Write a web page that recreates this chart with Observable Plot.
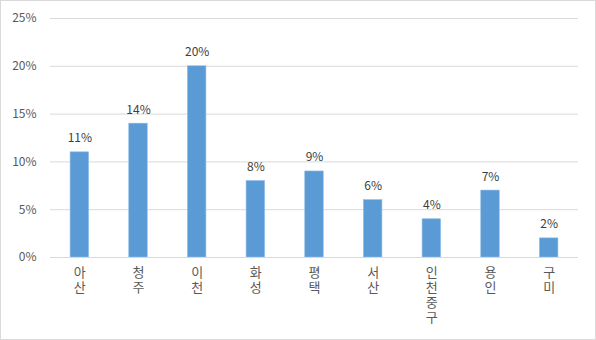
<!DOCTYPE html>
<html><head><meta charset="utf-8">
<script src="https://cdn.jsdelivr.net/npm/d3@7"></script>
<script src="https://cdn.jsdelivr.net/npm/@observablehq/plot@0.6"></script>
<style>
body{margin:0;background:#fff;}
#c svg{display:block;outline:1px solid #d9d9d9;outline-offset:-1px;}
</style>
</head><body><div id="c"></div>
<script>
const cities = ["아산","청주","이천","화성","평택","서산","인천중구","용인","구미"];
const shares = [11,14,20,8,9,6,4,7,2];
const yTicks = [0,5,10,15,20,25];

const data = cities.map((c,i)=>({city:c, v:shares[i]}));
const font = "'Noto Sans CJK KR', 'Noto Sans', sans-serif";
const chart = Plot.plot({
  width:596, height:340,
  marginLeft:50, marginRight:18, marginTop:18, marginBottom:83,
  style:{fontFamily:font, fontSize:"12px", color:"#595959", background:"#fff"},
  x:{domain:cities, paddingInner:0.685, paddingOuter:0.3425, round:false, label:null},
  y:{domain:[0,25], label:null},
  marks:[
    Plot.gridY(yTicks,{stroke:"#d9d9d9", strokeOpacity:1}),
    Plot.axisY(yTicks,{tickSize:0, tickPadding:14, tickFormat:d=>d+"%", fill:"#595959", fontSize:12, label:null}),
    Plot.barY(data,{x:"city", y:"v", fill:"#5b9bd5", stroke:"#8fbbe6", strokeWidth:0.6}),
    Plot.ruleY([0],{stroke:"#d9d9d9"}),
    Plot.axisX({tickSize:0, tickPadding:7, tickFormat:d=>d, fill:"#595959", fontSize:13, label:null}),
    Plot.text(data,{x:"city", y:"v", text:d=>d.v+"%", dy:-10, lineAnchor:"bottom", fill:"#404040", fontSize:12})
  ]
});
d3.select(chart).selectAll('g[aria-label="x-axis tick label"] text')
  .attr("dy", "-8")
  .style("writing-mode", "vertical-rl")
  .style("text-orientation", "upright")
  .style("text-anchor", "start")
  .style("letter-spacing", "2px");
document.getElementById("c").append(chart);
</script></body></html>
